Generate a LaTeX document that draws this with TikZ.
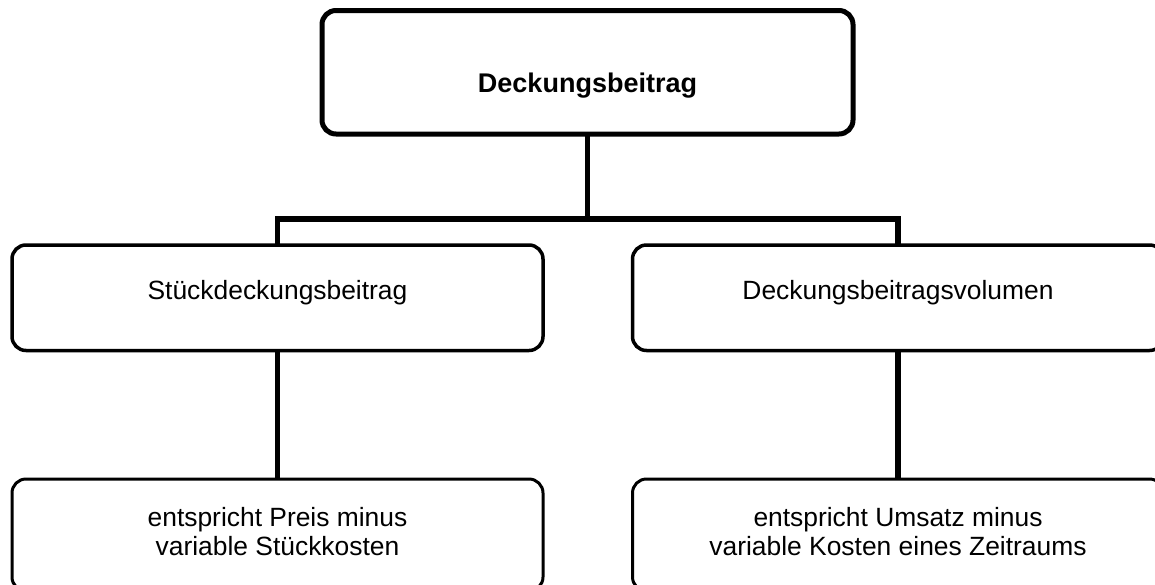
\documentclass[tikz,border=0pt]{standalone}
\usepackage{fontspec}
\setmainfont{Liberation Sans}
\begin{document}
\begin{tikzpicture}[x=1pt,y=-1pt,
  box/.style={draw, rounded corners=14pt, minimum width=531pt, inner sep=0pt, outer sep=0pt,
    font=\fontsize{26.4}{29}\selectfont},
  topbox/.style={box, line width=5pt, minimum height=123.5pt,
    font=\fontsize{27}{30}\selectfont\bfseries, text height=41pt, text depth=0pt},
  midbox/.style={box, line width=3.5pt, minimum height=105.5pt, text height=4pt, text depth=0pt},
  lowbox/.style={box, line width=3pt, minimum height=112pt, text height=0pt, text depth=18pt},
  link/.style={line width=5.5pt, line join=miter}]
\useasboundingbox (0,0) rectangle (1155,584);
\clip (0,0) rectangle (1155,584);
\node[topbox] (top) at (587.5,72.25) {Deckungsbeitrag};
\node[midbox] (l1) at (277.5,297.75) {Stückdeckungsbeitrag};
\node[midbox] (r1) at (898,297.75) {Deckungsbeitragsvolumen};
\node[lowbox] (l2) at (277.5,535) {\begin{tabular}[t]{@{}c@{}}entspricht Preis minus\\variable Stückkosten\end{tabular}};
\node[lowbox] (r2) at (898,535) {\begin{tabular}[t]{@{}c@{}}entspricht Umsatz minus\\variable Kosten eines Zeitraums\end{tabular}};
\coordinate (j) at (587.5,219);
\draw[link] (top.south) -- (j);
\draw[link] (l1.north) |- (j) -| (r1.north);
\draw[link] (l1.south) -- (l2.north);
\draw[link] (r1.south) -- (r2.north);
\end{tikzpicture}
\end{document}
